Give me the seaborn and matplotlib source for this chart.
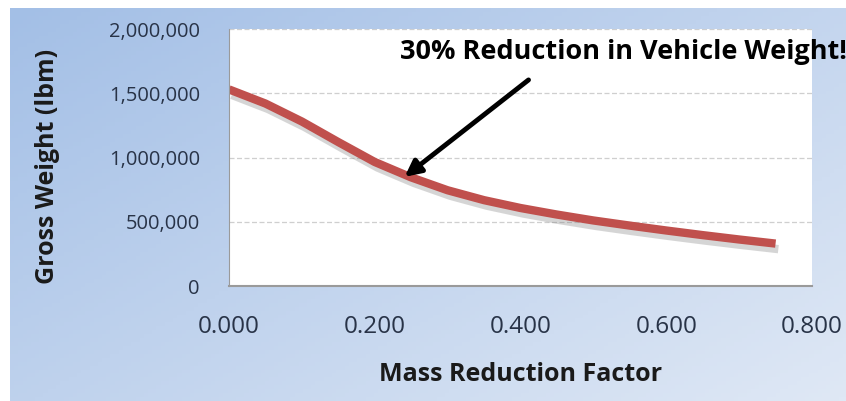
import numpy as np
import pandas as pd
import matplotlib
matplotlib.use("Agg")
import matplotlib.pyplot as plt
import matplotlib.patheffects as pe
from matplotlib.ticker import FuncFormatter
import seaborn as sns

# datos
mass_reduction = [0.00, 0.05, 0.10, 0.15, 0.20, 0.25, 0.30, 0.35,
                  0.40, 0.45, 0.50, 0.55, 0.60, 0.65, 0.70, 0.75]
gross_weight = [1530000, 1420000, 1280000, 1120000, 965000, 845000, 745000, 668000,
                607000, 556000, 510000, 470000, 432000, 396000, 362000, 330000]
x_ticks = [0.0, 0.2, 0.4, 0.6, 0.8]
y_ticks = [0, 500000, 1000000, 1500000, 2000000]

data = pd.DataFrame({"Mass Reduction Factor": mass_reduction,
                     "Gross Weight (lbm)": gross_weight})

sns.set_style("white")
plt.rcParams['font.family'] = ['Open Sans', 'DejaVu Sans']

fig = plt.figure(figsize=(8.46, 4.01), dpi=100)

# fondo azul con degradado
bg = fig.add_axes([10/846, 0, 1 - 10/846, 1 - 8/401], zorder=-10)
gx, gy = np.meshgrid(np.linspace(0, 1, 200), np.linspace(0, 1, 100))
grad = 0.55 * gx + 0.45 * gy
cmap = matplotlib.colors.LinearSegmentedColormap.from_list("bg", ["#a3bfe6", "#dfe8f5"])
bg.imshow(grad, cmap=cmap, aspect="auto", extent=[0, 1, 0, 1], origin="upper")
bg.set_axis_off()

ax = fig.add_axes([229/846, (401-286)/401, 583/846, (286-29)/401])
ax.set_facecolor("white")

sns.lineplot(data=data, x="Mass Reduction Factor", y="Gross Weight (lbm)", ax=ax,
             color="#c0504d", linewidth=6, solid_capstyle="butt",
             path_effects=[pe.SimpleLineShadow(offset=(2, -4), shadow_color="#777777", alpha=0.3),
                           pe.Normal()])

ax.set_xlim(0, 0.8)
ax.set_ylim(0, 2000000)
ax.set_xticks(x_ticks)
ax.set_yticks(y_ticks)
ax.xaxis.set_major_formatter(FuncFormatter(lambda v, p: f"{v:.3f}"))
ax.yaxis.set_major_formatter(FuncFormatter(lambda v, p: f"{int(v):,}"))
ax.tick_params(axis="both", length=0, labelcolor="#283347")
ax.tick_params(axis="x", pad=21, labelsize=17.5)
ax.tick_params(axis="y", pad=21, labelsize=14.5)
ax.grid(axis="y", color="#cfcfcf", linestyle=(0, (4, 2)), linewidth=0.9)
ax.set_axisbelow(True)
for s in ["top", "right"]:
    ax.spines[s].set_visible(False)
ax.spines["left"].set_color("#9a9a9a")
ax.spines["bottom"].set_color("#9a9a9a")
ax.spines["bottom"].set_linewidth(1.5)

ax.set_xlabel("Mass Reduction Factor", fontsize=18, fontweight="bold", color="#1a1a1a")
ax.set_ylabel("Gross Weight (lbm)", fontsize=18, fontweight="bold", color="#1a1a1a")
ax.xaxis.set_label_coords(0.5, (401 - 362 - 115) / 257)
ax.yaxis.set_label_coords((60 - 229) / 583, (286 - 166) / 257)

ax.text(0.541, 1820000, "30% Reduction in Vehicle Weight!", fontsize=19.5, fontweight="bold",
        color="black", ha="center", va="center", clip_on=False)
ax.annotate("", xy=(0.238, 836000), xytext=(0.414, 1617000),
            arrowprops=dict(arrowstyle="-|>", color="black", lw=3.5, mutation_scale=24))

fig.savefig("out.png", dpi=100)
